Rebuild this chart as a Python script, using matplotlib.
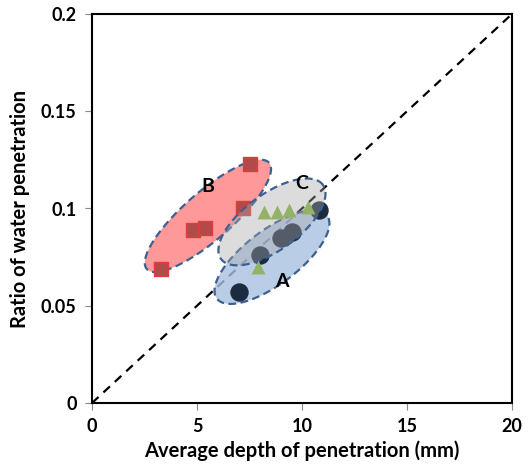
import numpy as np
import matplotlib
matplotlib.use("Agg")
import matplotlib.pyplot as plt

plt.rcParams['font.family'] = ['Lato', 'DejaVu Sans']

# group A (circles)
a_x = [7.0, 8.0, 9.0, 9.5, 10.8]
a_y = [0.057, 0.076, 0.085, 0.088, 0.099]
# group B (squares)
b_x = [3.3, 4.8, 5.4, 7.2, 7.5]
b_y = [0.069, 0.089, 0.090, 0.100, 0.123]
# group C (triangles)
c_x = [7.9, 8.2, 8.8, 9.4, 10.3]
c_y = [0.070, 0.098, 0.098, 0.099, 0.101]

x_ticks = [0, 5, 10, 15, 20]
y_ticks = [0, 0.05, 0.1, 0.15, 0.2]
y_tick_labels = ['0', '0.05', '0.1', '0.15', '0.2']

fig = plt.figure(figsize=(5.28, 4.69), dpi=100)
ax = fig.add_axes([92 / 528, 1 - 403 / 469, 420 / 528, 389 / 469])
ax.set_xlim(0, 20)
ax.set_ylim(0, 0.2)

# px per data unit, to draw ellipses in screen space
sx = ax.get_position().width * 528 / 20
sy = ax.get_position().height * 469 / 0.2


def group_ellipse(cx, cy, a, b, ang, color, alpha, z):
    t = np.linspace(0, 2 * np.pi, 200)
    r = np.deg2rad(ang)
    u = a * np.cos(t) * np.cos(r) - b * np.sin(t) * np.sin(r)
    v = a * np.cos(t) * np.sin(r) + b * np.sin(t) * np.cos(r)
    xs = cx + u / sx
    ys = cy + v / sy
    ax.fill(xs, ys, color=color, alpha=alpha, zorder=z, lw=0)
    ax.plot(xs, ys, color='#3c6190', lw=1.6, ls=(0, (3.5, 2)), zorder=z + 0.1)


# 1:1 line
ax.plot([0, 20], [0, 0.2], color='black', lw=1.6, ls=(0, (4, 3)), zorder=1)

group_ellipse(5.52, 0.0962, 81, 24, 41, '#ff8080', 0.8, 2)
group_ellipse(8.57, 0.0750, 69, 27, 37, '#a9c1e0', 0.8, 2)

ax.scatter(b_x, b_y, marker='s', s=100, color='#b34a4a', edgecolor='#e03c3c', lw=1, zorder=3)
ax.scatter(a_x, a_y, marker='o', s=150, color='#1d2b40', zorder=3)

group_ellipse(8.57, 0.0931, 63, 28, 36, '#a8a8a8', 0.4, 4)

ax.scatter(c_x, c_y, marker='^', s=100, color='#93b266', lw=0, zorder=5)

ax.text(9.05, 0.0627, 'A', fontsize=14, fontweight='bold', ha='center', va='center', zorder=6)
ax.text(5.52, 0.1115, 'B', fontsize=14, fontweight='bold', ha='center', va='center', zorder=6)
ax.text(10.0, 0.1126, 'C', fontsize=14, fontweight='bold', ha='center', va='center', zorder=6)

ax.set_xticks(x_ticks)
ax.set_xticklabels([str(v) for v in x_ticks])
ax.set_yticks(y_ticks)
ax.set_yticklabels(y_tick_labels)
ax.tick_params(direction='out', length=5, width=0.8, color='#888888', labelsize=13, pad=6)
for lab in ax.get_xticklabels() + ax.get_yticklabels():
    lab.set_fontweight('bold')
for sp in ax.spines.values():
    sp.set_linewidth(1.5)

ax.set_xlabel('Average depth of penetration (mm)', fontsize=14.5, fontweight='bold', labelpad=4)
ax.set_ylabel('Ratio of water penetration', fontsize=14.5, fontweight='bold', labelpad=8)

fig.savefig('out.png', dpi=100)
